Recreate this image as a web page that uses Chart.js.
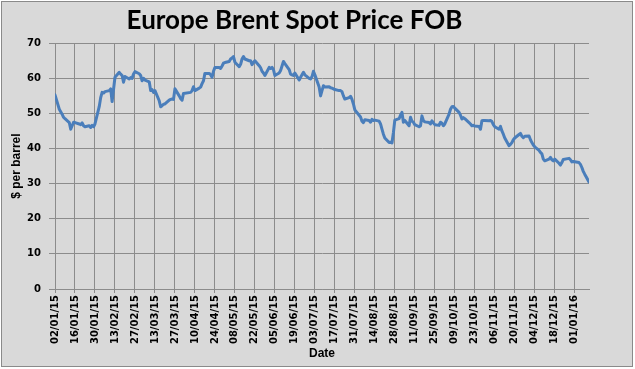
<!DOCTYPE html>
<html>
<head>
<meta charset="utf-8">
<script src="https://cdn.jsdelivr.net/npm/chart.js@4.4.1/dist/chart.umd.min.js"></script>
<style>
  html, body { margin: 0; padding: 0; background: #ffffff; }
  #wrap { width: 635px; height: 369px; }
</style>
</head>
<body>
<div id="wrap"><canvas id="brentChart" width="635" height="369"></canvas></div>
<script>
// Europe Brent spot price, 2015
const dates = [
  '02/01/15', '05/01/15', '07/01/15', '08/01/15', '09/01/15', '12/01/15', '13/01/15', '14/01/15', '15/01/15', '16/01/15',
  '19/01/15', '20/01/15', '21/01/15', '22/01/15', '23/01/15', '26/01/15', '27/01/15', '28/01/15', '29/01/15', '30/01/15',
  '02/02/15', '03/02/15', '04/02/15', '05/02/15', '06/02/15', '09/02/15', '10/02/15', '11/02/15', '13/02/15',
  '16/02/15', '17/02/15', '18/02/15', '19/02/15', '20/02/15', '23/02/15', '24/02/15', '25/02/15', '26/02/15', '27/02/15',
  '02/03/15', '03/03/15', '04/03/15', '05/03/15', '06/03/15', '09/03/15', '10/03/15', '11/03/15', '12/03/15', '13/03/15',
  '16/03/15', '17/03/15', '18/03/15', '19/03/15', '20/03/15', '23/03/15', '24/03/15', '25/03/15', '26/03/15', '27/03/15',
  '30/03/15', '31/03/15', '01/04/15', '02/04/15', '07/04/15', '08/04/15', '09/04/15', '10/04/15',
  '13/04/15', '14/04/15', '15/04/15', '16/04/15', '17/04/15', '20/04/15', '21/04/15', '22/04/15', '23/04/15', '24/04/15',
  '27/04/15', '28/04/15', '29/04/15', '30/04/15', '01/05/15', '04/05/15', '05/05/15', '06/05/15', '07/05/15', '08/05/15',
  '11/05/15', '12/05/15', '13/05/15', '14/05/15', '15/05/15', '18/05/15', '19/05/15', '20/05/15', '21/05/15', '22/05/15',
  '25/05/15', '26/05/15', '27/05/15', '28/05/15', '29/05/15', '01/06/15', '02/06/15', '03/06/15', '04/06/15', '05/06/15',
  '08/06/15', '09/06/15', '10/06/15', '11/06/15', '12/06/15', '15/06/15', '16/06/15', '17/06/15', '18/06/15', '19/06/15',
  '22/06/15', '23/06/15', '24/06/15', '25/06/15', '26/06/15', '29/06/15', '30/06/15', '01/07/15', '02/07/15', '03/07/15',
  '06/07/15', '07/07/15', '08/07/15', '09/07/15', '10/07/15', '13/07/15', '14/07/15', '15/07/15', '16/07/15', '17/07/15',
  '20/07/15', '21/07/15', '22/07/15', '23/07/15', '24/07/15', '27/07/15', '28/07/15', '29/07/15', '30/07/15', '31/07/15',
  '03/08/15', '04/08/15', '05/08/15', '06/08/15', '07/08/15', '10/08/15', '11/08/15', '12/08/15', '13/08/15', '14/08/15',
  '17/08/15', '18/08/15', '19/08/15', '20/08/15', '21/08/15', '24/08/15', '25/08/15', '26/08/15', '27/08/15', '28/08/15',
  '31/08/15', '01/09/15', '02/09/15', '03/09/15', '04/09/15', '07/09/15', '08/09/15', '09/09/15', '10/09/15', '11/09/15',
  '14/09/15', '15/09/15', '16/09/15', '17/09/15', '18/09/15', '21/09/15', '22/09/15', '23/09/15', '24/09/15', '25/09/15',
  '28/09/15', '29/09/15', '30/09/15', '01/10/15', '02/10/15', '05/10/15', '06/10/15', '07/10/15', '08/10/15', '09/10/15',
  '12/10/15', '13/10/15', '14/10/15', '15/10/15', '16/10/15', '19/10/15', '20/10/15', '21/10/15', '22/10/15', '23/10/15',
  '26/10/15', '27/10/15', '28/10/15', '29/10/15', '30/10/15', '02/11/15', '03/11/15', '04/11/15', '05/11/15', '06/11/15',
  '09/11/15', '10/11/15', '11/11/15', '12/11/15', '13/11/15', '16/11/15', '17/11/15', '18/11/15', '19/11/15', '20/11/15',
  '23/11/15', '24/11/15', '25/11/15', '26/11/15', '27/11/15', '30/11/15', '01/12/15', '02/12/15', '03/12/15', '04/12/15',
  '07/12/15', '08/12/15', '09/12/15', '10/12/15', '11/12/15', '14/12/15', '15/12/15', '16/12/15', '17/12/15', '18/12/15',
  '21/12/15', '22/12/15', '23/12/15', '24/12/15', '28/12/15', '29/12/15', '30/12/15', '31/12/15',
  '04/01/16', '05/01/16', '06/01/16', '07/01/16', '08/01/16', '11/01/16'
];

const prices = [
  55.3, 51.2, 49.8, 48.9, 48.5, 47.4, 45.5, 46.5, 47.5, 47.4,
  47.0, 46.8, 47.3, 46.5, 46.2, 46.5, 46.0, 46.6, 46.2, 47.0,
  52.0, 54.5, 56.0, 55.8, 56.2, 56.5, 57.0, 53.4, 60.3,
  61.7, 61.2, 60.8, 58.9, 60.5, 59.8, 60.2, 60.0, 61.2, 61.9,
  61.3, 60.8, 59.3, 60.0, 59.5, 59.0, 56.5, 56.8, 56.0, 56.5,
  53.6, 51.9, 52.2, 52.6, 52.7, 53.8, 54.0, 54.1, 54.0, 57.0,
  55.0, 54.2, 53.8, 55.7, 56.0, 56.5, 57.6, 56.5,
  57.2, 57.5, 58.5, 59.3, 61.4, 61.4, 61.0, 60.3, 62.0, 63.1,
  63.1, 62.8, 63.5, 64.3, 64.5, 64.8, 65.5, 65.8, 66.2, 64.6,
  63.3, 64.0, 65.5, 66.2, 65.5, 65.0, 65.0, 63.9, 64.5, 65.0,
  63.6, 63.0, 62.0, 61.5, 60.8, 63.1, 62.8, 63.1, 62.5, 60.8,
  61.5, 62.2, 63.5, 64.8, 64.2, 62.5, 61.2, 61.0, 60.8, 61.5,
  59.5, 60.3, 61.0, 61.7, 61.0, 60.0, 59.8, 60.5, 62.0, 61.0,
  57.5, 55.0, 56.5, 57.9, 57.5, 57.6, 57.3, 57.2, 57.0, 56.8,
  56.5, 56.5, 56.2, 55.0, 54.1, 54.5, 54.9, 54.0, 52.7, 51.0,
  49.5, 49.0, 47.8, 47.4, 48.2, 48.0, 47.5, 48.3, 48.0, 48.1,
  47.8, 47.0, 45.5, 44.1, 43.0, 41.7, 41.8, 41.6, 44.5, 48.1,
  48.5, 49.5, 50.3, 47.5, 48.0, 46.5, 48.9, 47.8, 47.5, 46.8,
  46.2, 46.5, 49.3, 48.0, 47.6, 47.4, 47.0, 47.9, 47.3, 46.8,
  46.6, 47.5, 47.2, 46.5, 47.0, 49.8, 51.2, 51.9, 52.0, 51.5,
  50.3, 49.5, 48.4, 48.8, 48.5, 47.4, 47.0, 46.5, 46.6, 46.4,
  46.3, 45.5, 47.9, 48.0, 48.0, 47.9, 48.0, 47.7, 46.8, 46.2,
  45.5, 46.3, 45.0, 44.1, 43.0, 40.8, 41.2, 41.7, 42.5, 43.0,
  44.0, 44.3, 43.5, 43.1, 43.5, 43.6, 42.5, 41.7, 41.0, 40.5,
  39.5, 38.9, 38.5, 37.0, 36.5, 37.0, 37.5, 36.8, 36.5, 37.0,
  35.8, 35.3, 36.0, 36.9, 37.2, 36.8, 36.2, 36.3,
  36.0, 35.5, 34.6, 33.5, 32.7, 30.5
];

const yTicks = [0, 10, 20, 30, 40, 50, 60, 70];

const DAY = 86400000;
const startDate = Date.UTC(2015, 0, 2);

// dd/mm/yy -> days since 02/01/15
function dayOffset(s) {
    const p = s.split('/');
    return Math.round((Date.UTC(2000 + Number(p[2]), Number(p[1]) - 1, Number(p[0])) - startDate) / DAY);
}

function fmtDay(v) {
    const d = new Date(startDate + v * DAY);
    const dd = String(d.getUTCDate()).padStart(2, '0');
    const mm = String(d.getUTCMonth() + 1).padStart(2, '0');
    const yy = String(d.getUTCFullYear() % 100).padStart(2, '0');
    return dd + '/' + mm + '/' + yy;
}

const points = dates.map((d, i) => ({ x: dayOffset(d), y: prices[i] }));
const lastDay = points[points.length - 1].x;

const tickFont = { family: 'DejaVu Sans', size: 10, weight: 'bold' };
const titleFont = { family: 'Liberation Sans', size: 12, weight: 'bold' };
const gridColor = '#8c8c8c';

// grey background and outer frame, like the Excel chart
const frame = {
    id: 'frame',
    beforeDraw(chart) {
        const c = chart.ctx;
        c.save();
        c.fillStyle = '#d9d9d9';
        c.fillRect(1, 1, 632, 366);
        c.strokeStyle = '#8a8a8a';
        c.lineWidth = 1;
        c.strokeRect(1.5, 1.5, 631, 365);
        c.restore();
    }
};

const config = {
    type: 'line',
    data: {
        datasets: [{
            label: 'Brent',
            data: points,
            borderColor: '#4a7ebb',
            borderWidth: 3,
            pointRadius: 0,
            tension: 0,
            borderJoinStyle: 'round',
            borderCapStyle: 'round'
        }]
    },
    options: {
        responsive: false,
        animation: false,
        layout: { padding: { left: 0, right: 46, top: 0, bottom: 0 } },
        plugins: {
            legend: { display: false },
            tooltip: { enabled: false },
            title: {
                display: true,
                text: 'Europe Brent Spot Price FOB',
                color: '#000000',
                font: { family: 'Lato', size: 26, weight: 'bold' },
                padding: { top: 5, bottom: 7 }
            }
        },
        scales: {
            x: {
                type: 'linear',
                min: 0,
                max: lastDay,
                ticks: {
                    stepSize: 14,
                    autoSkip: false,
                    minRotation: 90,
                    maxRotation: 90,
                    padding: 2,
                    color: '#000000',
                    font: tickFont,
                    callback: v => fmtDay(v)
                },
                afterBuildTicks: s => { s.ticks = s.ticks.filter(t => t.value % 14 === 0); },
                afterFit: s => { s.height = 80; },
                grid: { color: gridColor, tickLength: 4, lineWidth: 1 },
                border: { color: gridColor, width: 1 },
                title: {
                    display: true,
                    text: 'Date',
                    color: '#000000',
                    font: titleFont,
                    padding: { top: 0, bottom: 8 }
                }
            },
            y: {
                min: 0,
                max: 70,
                afterBuildTicks: s => { s.ticks = yTicks.map(v => ({ value: v })); },
                afterFit: s => { s.width = 55; },
                ticks: {
                    padding: 8,
                    color: '#000000',
                    font: tickFont
                },
                grid: { color: gridColor, tickLength: 6, lineWidth: 1 },
                border: { color: gridColor, width: 1 },
                title: {
                    display: true,
                    text: '$ per barrel',
                    color: '#000000',
                    font: titleFont,
                    padding: { top: 9, bottom: 0 }
                }
            }
        }
    },
    plugins: [frame]
};

const ctx = document.getElementById('brentChart').getContext('2d');
new Chart(ctx, config);
</script>
</body>
</html>
